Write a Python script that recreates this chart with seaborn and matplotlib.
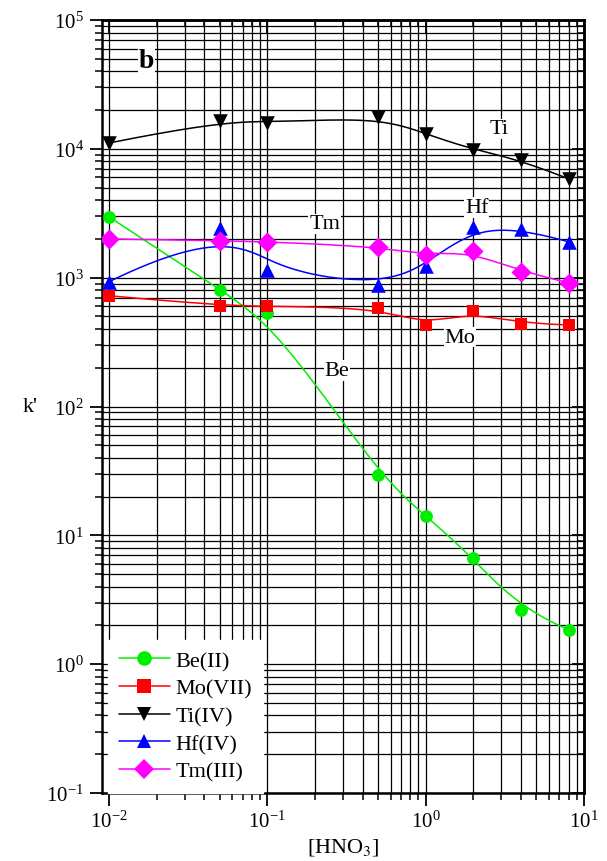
import numpy as np
import pandas as pd
import matplotlib
matplotlib.use("Agg")
import matplotlib.pyplot as plt
from matplotlib.lines import Line2D
import seaborn as sns

# ---------------- data ----------------
hno3 = [0.01, 0.05, 0.1, 0.5, 1.0, 2.0, 4.0, 8.0]
be_ii = [2970, 800, 535, 29.5, 14.2, 6.7, 2.65, 1.85]
mo_vii = [724, 606, 600, 585, 428, 555, 440, 430]
ti_iv = [11100, 16500, 15900, 17700, 13100, 9800, 8200, 5850]
hf_iv = [930, 2440, 1150, 870, 1240, 2480, 2400, 1900]
tm_iii = [2000, 1940, 1900, 1740, 1490, 1620, 1110, 915]

series_names = ["Be(II)", "Mo(VII)", "Ti(IV)", "Hf(IV)", "Tm(III)"]
series_values = [be_ii, mo_vii, ti_iv, hf_iv, tm_iii]
series_colors = ["#00ee00", "#ff0000", "#000000", "#0000ff", "#ff00ff"]
series_markers = ["o", "s", "v", "^", "D"]
series_sizes = [85, 75, 110, 110, 105]

curve_labels = ["Be", "Mo", "Ti", "Hf", "Tm"]
curve_label_pos = [(0.274, 190), (1.64, 345), (2.93, 14300), (2.1, 3500), (0.23, 2620)]


def bspline_curve(xs, ys, num=300, k=3):
    """Clamped cubic B-spline (Origin style) in log-log space using data as control points."""
    P = np.column_stack([np.log10(xs), np.log10(ys)])
    n = len(P)
    knots = np.concatenate([np.zeros(k), np.arange(n - k + 1), np.full(k, n - k)]).astype(float)
    t = np.linspace(0, n - k, num)

    def N(i, p):
        if p == 0:
            res = ((knots[i] <= t) & (t < knots[i + 1])).astype(float)
            if knots[i + 1] == knots[-1] and knots[i] < knots[i + 1]:
                res[t == knots[-1]] = 1.0
            return res
        out = np.zeros_like(t)
        d1 = knots[i + p] - knots[i]
        if d1 > 0:
            out += (t - knots[i]) / d1 * N(i, p - 1)
        d2 = knots[i + p + 1] - knots[i + 1]
        if d2 > 0:
            out += (knots[i + p + 1] - t) / d2 * N(i + 1, p - 1)
        return out

    B = np.array([N(i, k) for i in range(n)])
    C = B.T @ P
    return 10 ** C[:, 0], 10 ** C[:, 1]


# ---------------- style ----------------
sns.set_theme(style="white")
plt.rcParams["font.family"] = ["Liberation Serif", "DejaVu Serif"]
plt.rcParams["mathtext.fontset"] = "stix"
plt.rcParams["axes.unicode_minus"] = False
for key in ["text.color", "axes.labelcolor", "xtick.color", "ytick.color",
            "axes.edgecolor"]:
    plt.rcParams[key] = "black"

fig = plt.figure(figsize=(6.07, 8.62), dpi=100)
ax = fig.add_axes([0.168, 0.0789, 0.7941, 0.8967])
ax.set_xscale("log")
ax.set_yscale("log")
ax.set_xlim(0.00903, 10)
ax.set_ylim(0.1, 1e5)

# grid
ax.grid(True, which="major", color="black", linewidth=0.9)
ax.grid(True, which="minor", color="black", linewidth=0.9)
ax.set_axisbelow(True)

for name, vals, col, mk, sz in zip(series_names, series_values, series_colors,
                                   series_markers, series_sizes):
    cx, cy = bspline_curve(hno3, vals)
    sns.lineplot(x=cx, y=cy, ax=ax, color=col, linewidth=1.1, sort=False,
                 estimator=None, legend=False, zorder=3)
    df = pd.DataFrame({"x": hno3, "y": vals})
    sns.scatterplot(data=df, x="x", y="y", ax=ax, color=col, marker=mk, s=sz,
                    edgecolor=col, linewidth=0, legend=False, zorder=4)

# curve labels
for lab, (lx, ly) in zip(curve_labels, curve_label_pos):
    ax.text(lx, ly, lab, fontsize=16, ha="center", va="center", zorder=5,
            color="black",
            bbox=dict(facecolor="white", edgecolor="none", pad=0.5))
ax.text(0.0173, 48500, "b", fontsize=20, fontweight="bold", ha="center", va="center",
        zorder=5, color="black",
        bbox=dict(facecolor="white", edgecolor="none", pad=0.5))

# ticks
ax.tick_params(axis="both", which="major", direction="out", length=9, width=1.3,
               labelsize=15, color="black", labelcolor="black", pad=4)
ax.tick_params(axis="both", which="minor", direction="out", length=5, width=1.1,
               color="black")
ax.tick_params(axis="both", which="both", bottom=True, left=True)
for sp in ax.spines.values():
    sp.set_color("black")
    sp.set_linewidth(1.8)

secx = ax.secondary_xaxis("top")
secx.tick_params(which="major", direction="in", length=9, width=1.3, labeltop=False)
secx.tick_params(which="minor", direction="in", length=5, width=1.1)
secx.set_xticklabels([])
secy = ax.secondary_yaxis("right")
secy.tick_params(which="major", direction="in", length=9, width=1.3, labelright=False)
secy.tick_params(which="minor", direction="in", length=5, width=1.1)
secy.set_yticklabels([])
for s in (secx, secy):
    for sp in s.spines.values():
        sp.set_linewidth(1.8)
        sp.set_color("black")

ax.set_xlabel("[HNO$_3$]", fontsize=16, labelpad=3, color="black")
ax.set_ylabel("k'", fontsize=16, rotation=0, ha="center", va="center", color="black")
ax.yaxis.set_label_coords(-0.149, 0.5006)

# legend
handles = [Line2D([0], [0], color=c, marker=m, markersize=10.5 if m != "s" else 9.5,
                  markeredgewidth=0, linewidth=1.1)
           for c, m in zip(series_colors, series_markers)]
leg = ax.legend(handles, series_names, loc="lower left",
                bbox_to_anchor=(0.012, 0.0), fontsize=16, frameon=True,
                facecolor="white", edgecolor="white", framealpha=1,
                handlelength=2.3, labelspacing=0.32, handletextpad=0.25,
                borderpad=0.5, borderaxespad=0.0, fancybox=False)
for t in leg.get_texts():
    t.set_color("black")
leg.set_zorder(6)

fig.savefig("out.png", dpi=100)
